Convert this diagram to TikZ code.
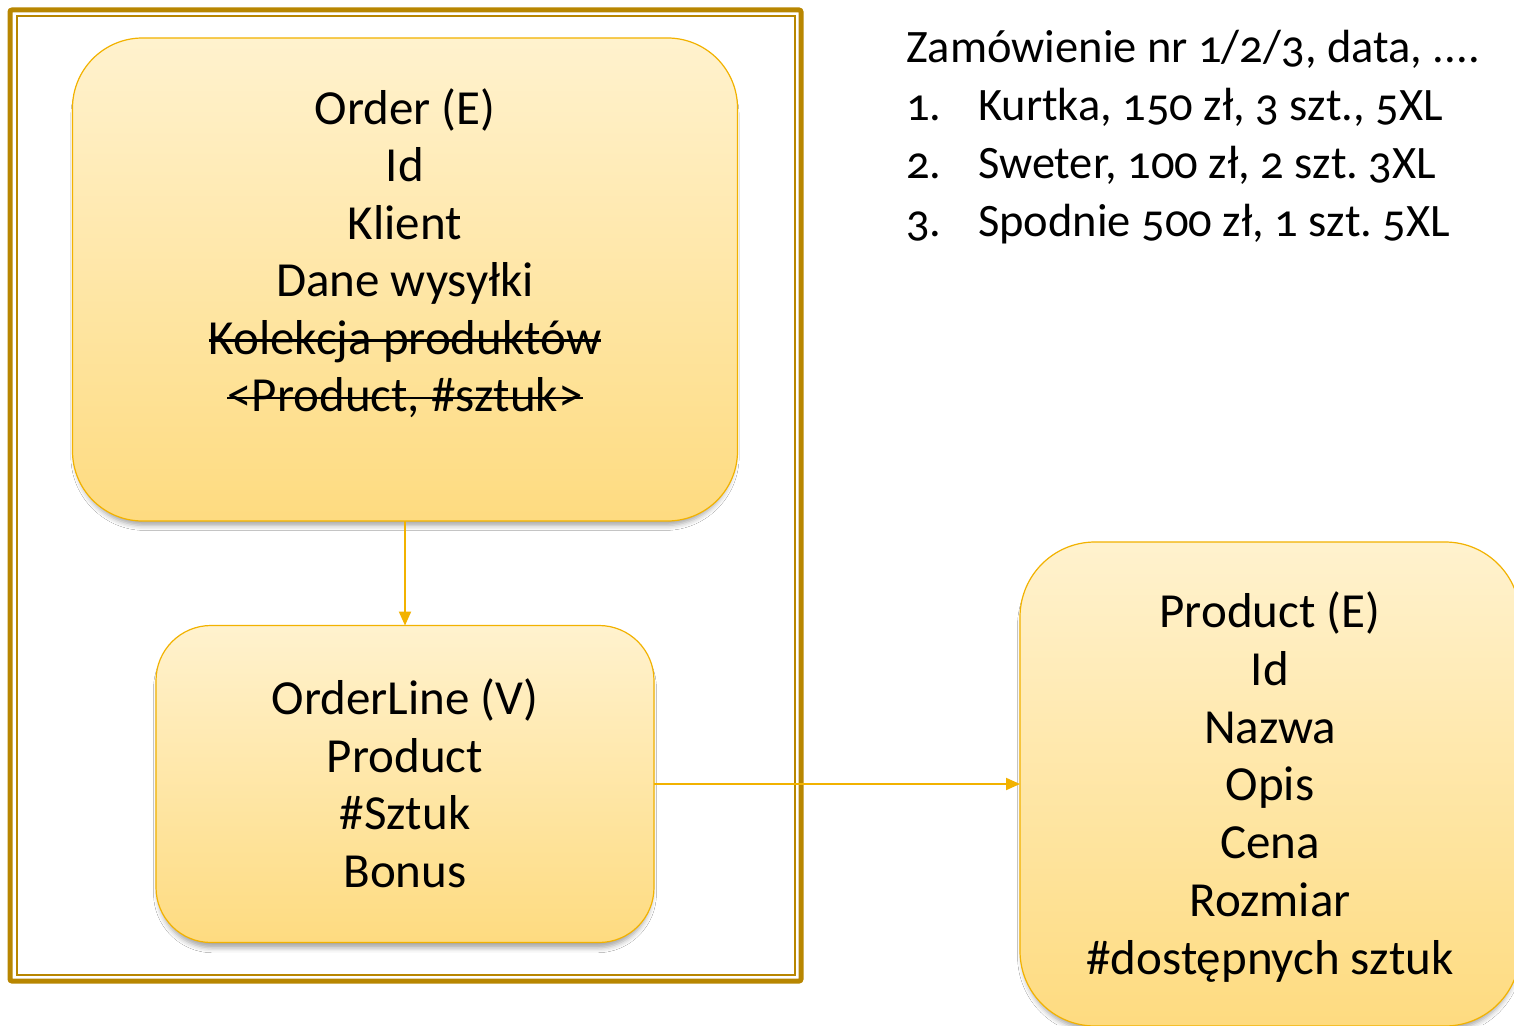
\documentclass[tikz,border=0pt]{standalone}
\usepackage{fontspec}
\setmainfont[Numbers=OldStyle]{Carlito}
\newcommand{\strk}[1]{\setbox0\hbox{#1}\rlap{\rule[0.25em]{\wd0}{2.6pt}}\box0}
\usetikzlibrary{arrows.meta,shadows.blur}
\definecolor{gold}{RGB}{242,178,0}
\definecolor{framec}{RGB}{184,134,0}
\definecolor{boxtop}{RGB}{255,242,206}
\definecolor{boxbot}{RGB}{254,219,128}
\frenchspacing
\begin{document}
\begin{tikzpicture}[x=1pt,y=-1pt,
  ebox/.style={draw=gold, line width=1.2pt, top color=boxtop, bottom color=boxbot,
    inner sep=0pt, outer sep=0pt,
    blur shadow={shadow xshift=0pt, shadow yshift=-7pt, shadow scale=0.99, shadow blur radius=5pt, shadow opacity=35}},
  lbl/.style={align=center, font=\fontsize{49}{57.5}\selectfont, inner sep=0pt},
  listtxt/.style={align=left, font=\fontsize{46.5}{58}\selectfont, inner sep=0pt},
  conn/.style={draw=gold, line width=2pt, -{Triangle[length=14pt,width=12pt]}},
  frameout/.style={draw=framec, line width=5pt, rounded corners=2pt},
  framein/.style={draw=framec, line width=1.5pt}]
\useasboundingbox (0,0) rectangle (1514,1025);
\clip (0,0) rectangle (1514,1025);
\fill[white] (0,0) rectangle (1514,1025);

% frame
\draw[frameout] (10,10) rectangle (801,981);
\draw[framein] (17,16) rectangle (795,975);

% boxes
\node[ebox, rounded corners=70pt, minimum width=665pt, minimum height=483pt] (order) at (405,279.5) {};
\node[lbl] (ordertxt) at (405,253) {Order (E)\\Id\\Klient\\Dane wysyłki\\\strk{Kolekcja produktów}\\\strk{<Product, \#sztuk>}};

\node[ebox, rounded corners=55pt, minimum width=498pt, minimum height=317pt] (orderline) at (405,784) {};
\node[lbl] (orderlinetxt) at (405,783) {OrderLine (V)\\Product\\\#Sztuk\\Bonus};

\node[ebox, rounded corners=75pt, minimum width=500pt, minimum height=484pt] (product) at (1270,784) {};
\node[lbl, font=\fontsize{49}{57.8}\selectfont] (producttxt) at (1270,787) {Product (E)\\Id\\Nazwa\\Opis\\Cena\\Rozmiar\\\#dostępnych sztuk};

% connectors
\draw[conn] (order) -- (orderline);
\draw[conn] (orderline) -- (product);

% list
\node[listtxt, anchor=north west] (list) at (906,30) {Zamówienie nr 1/2/3, data, ....\\
\makebox[72pt][l]{1.}Kurtka, 150 zł, 3 szt., 5XL\\
\makebox[72pt][l]{2.}Sweter, 100 zł, 2 szt. 3XL\\
\makebox[72pt][l]{3.}Spodnie 500 zł, 1 szt. 5XL};
\end{tikzpicture}
\end{document}
